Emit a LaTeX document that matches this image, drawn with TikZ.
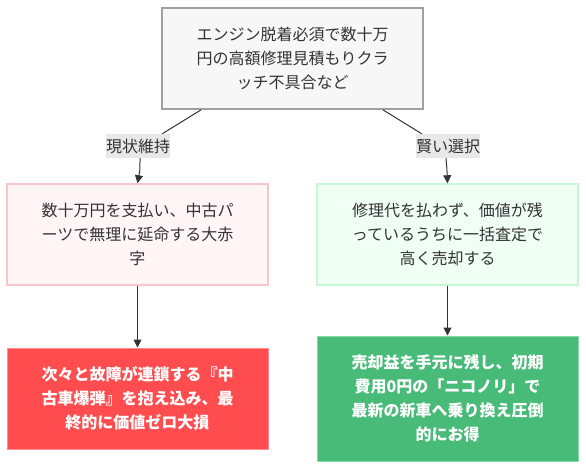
\documentclass[tikz,border=0pt]{standalone}
\usepackage{fontspec}
\setmainfont{Noto Sans CJK JP}
\usetikzlibrary{arrows.meta}
\definecolor{txt}{HTML}{333333}
\definecolor{topfill}{HTML}{F7F7F7}
\definecolor{topdraw}{HTML}{A0A0A0}
\definecolor{lmfill}{HTML}{FFF5F5}
\definecolor{lmdraw}{HTML}{F5C6CB}
\definecolor{rmfill}{HTML}{F0FFF4}
\definecolor{rmdraw}{HTML}{C6F6D5}
\definecolor{lbfill}{HTML}{FF4D4F}
\definecolor{lbdraw}{HTML}{FF8C8C}
\definecolor{rbfill}{HTML}{48BB78}
\definecolor{rbdraw}{HTML}{86D9A6}
\definecolor{lblbg}{HTML}{E8E8E8}
\begin{document}
\begin{tikzpicture}[x=1pt,y=-1pt,
  every node/.style={font=\fontsize{16}{24}\selectfont, text=txt},
  box/.style={draw, line width=1.5pt, align=center, inner sep=0pt, minimum width=261pt},
  whitetxt/.style={text=white, font=\fontsize{16}{24}\selectfont\bfseries},
  lbl/.style={fill=lblbg, inner sep=0pt, minimum height=24pt, text=txt},
  conn/.style={draw=txt, line width=1pt},
  arr/.style={conn, -{Triangle[length=8pt,width=8pt]}}
]
\useasboundingbox (0,0) rectangle (586,470);
\fill[fill=white] (0,0) rectangle (586,470);
\node[box, fill=topfill, draw=topdraw, minimum height=101pt] (top) at (292.5,58.5)
  {エンジン脱着必須で数十万\\円の高額修理見積もりクラ\\ッチ不具合など};
\node[box, fill=lmfill, draw=lmdraw, minimum height=101pt] (ml) at (137.5,234.5)
  {数十万円を支払い、中古パ\\ーツで無理に延命する大赤\\字};
\node[box, fill=rmfill, draw=rmdraw, minimum height=101pt] (mr) at (447.5,234.5)
  {修理代を払わず、価値が残\\っているうちに一括査定で\\高く売却する};
\node[box, whitetxt, fill=lbfill, draw=lbdraw, line width=1pt, minimum height=101pt] (bl) at (137.5,398.5)
  {次々と故障が連鎖する『中\\古車爆弾』を抱え込み、最\\終的に価値ゼロ大損};
\node[box, whitetxt, fill=rbfill, draw=rbdraw, line width=1pt, minimum height=125pt] (br) at (447.5,398.5)
  {売却益を手元に残し、初期\\費用0円の「ニコノリ」で\\最新の新車へ乗り換え圧倒\\的にお得};
\node[lbl] (ll) at (138,146) {現状維持};
\node[lbl] (lr) at (448,146) {賢い選択};
\draw[conn] ([xshift=40pt]top.south west) -- ([xshift=-8pt]ll.north east);
\draw[arr] ([xshift=2pt]ll.south) .. controls (140,170) .. (ml.north);
\draw[conn] ([xshift=-41pt]top.south east) -- ([xshift=6pt]lr.north west);
\draw[arr] ([xshift=-2pt]lr.south) .. controls (447,170) .. (mr.north);
\draw[arr] (ml.south) -- (bl.north);
\draw[arr] (mr.south) -- (br.north);
\end{tikzpicture}
\end{document}
